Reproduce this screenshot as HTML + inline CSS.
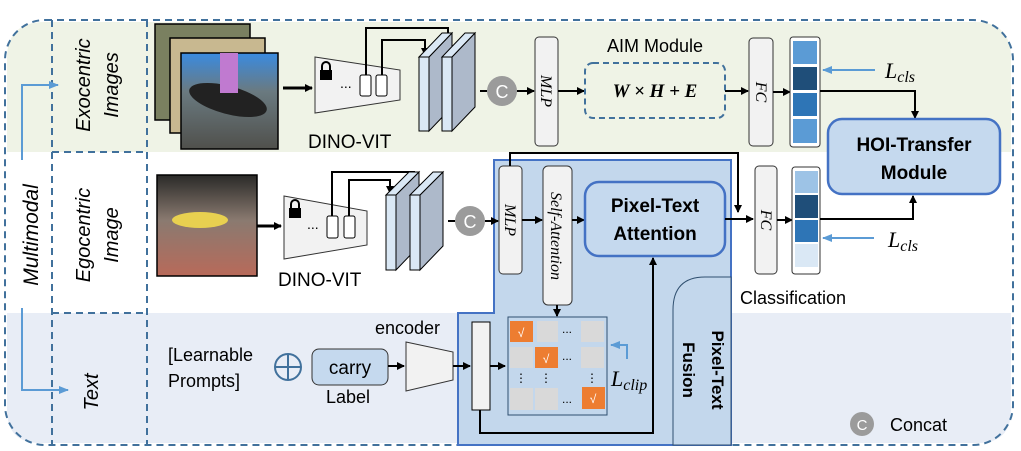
<!DOCTYPE html>
<html><head><meta charset="utf-8"><style>body{margin:0;background:#fff}svg{display:block}text{font-family:"Liberation Sans",sans-serif}text.s{font-family:"Liberation Serif",serif;font-style:italic}</style></head><body>
<svg width="1021" height="451" viewBox="0 0 1021 451" xmlns="http://www.w3.org/2000/svg">
<defs>
<marker id="a" markerWidth="8" markerHeight="8" refX="7" refY="4" orient="auto" markerUnits="userSpaceOnUse"><path d="M0,0 L8,4 L0,8z" fill="#000"/></marker>
<marker id="b" markerWidth="10" markerHeight="8" refX="9" refY="4" orient="auto" markerUnits="userSpaceOnUse"><path d="M0,0 L10,4 L0,8z" fill="#5b9bd5"/></marker>
<linearGradient id="g1" x1="0" y1="0" x2="0" y2="1"><stop offset="0" stop-color="#3a8be0"/><stop offset=".4" stop-color="#6a7a80"/><stop offset="1" stop-color="#50504c"/></linearGradient>
<linearGradient id="g2" x1="0" y1="0" x2="0" y2="1"><stop offset="0" stop-color="#2a2a28"/><stop offset=".45" stop-color="#8a7a70"/><stop offset="1" stop-color="#b86a5a"/></linearGradient>
</defs>
<path d="M45,22 H975 Q1011,22 1011,58 V152 H7 V58 Q7,22 45,22z" fill="#eff3e6"/>
<path d="M7,313 H1011 V410 Q1011,443 978,443 H40 Q7,443 7,410z" fill="#e8edf6"/>
<rect x="5" y="20" width="1008" height="425" rx="40" fill="none" stroke="#41719c" stroke-width="2" stroke-dasharray="7,5"/>
<g stroke="#41719c" stroke-width="2" stroke-dasharray="7,5" fill="none">
<line x1="52" y1="20" x2="52" y2="445"/><line x1="147" y1="20" x2="147" y2="445"/>
<line x1="52" y1="152" x2="147" y2="152"/><line x1="52" y1="313" x2="147" y2="313"/>
</g>
<text transform="translate(38,235) rotate(-90)" text-anchor="middle" font-size="21" font-style="italic">Multimodal</text>
<text transform="translate(90,85) rotate(-90)" text-anchor="middle" font-size="20" font-style="italic">Exocentric</text>
<text transform="translate(118,85) rotate(-90)" text-anchor="middle" font-size="20" font-style="italic">Images</text>
<text transform="translate(90,235) rotate(-90)" text-anchor="middle" font-size="20" font-style="italic">Egocentric</text>
<text transform="translate(118,235) rotate(-90)" text-anchor="middle" font-size="20" font-style="italic">Image</text>
<text transform="translate(98,392) rotate(-90)" text-anchor="middle" font-size="20" font-style="italic">Text</text>
<path d="M22,160 V85 H58" fill="none" stroke="#5b9bd5" stroke-width="2" marker-end="url(#b)"/>
<path d="M22,308 V390 H68" fill="none" stroke="#5b9bd5" stroke-width="2" marker-end="url(#b)"/>
<rect x="155" y="24" width="95" height="96" fill="#7a8060" stroke="#000" stroke-width="1.5"/>
<rect x="170" y="38" width="95" height="95" fill="#c8b890" stroke="#000" stroke-width="1.5"/>
<rect x="181" y="53" width="97" height="96" fill="url(#g1)" stroke="#000" stroke-width="1.5"/>
<ellipse cx="228" cy="100" rx="40" ry="14" fill="#222" transform="rotate(15 228 100)"/>
<rect x="220" y="53" width="18" height="40" fill="#c07ad0"/>
<line x1="283" y1="88" x2="312" y2="88" stroke="#000" stroke-width="3" marker-end="url(#a)"/>
<path d="M315,57 L400,70 L400,100 L315,113z" fill="#f2f2f2" stroke="#333"/>
<rect x="320" y="70" width="12" height="10" fill="#000"/><path d="M322,70 V66 A4,4 0 0 1 330,66 V70" fill="none" stroke="#000" stroke-width="2"/>
<text x="340" y="88" font-size="14">...</text>
<rect x="360" y="75" width="11" height="21" rx="2" fill="#fff" stroke="#000"/>
<rect x="376" y="75" width="11" height="21" rx="2" fill="#fff" stroke="#000"/>
<path d="M366,75 V28 H448 V48" fill="none" stroke="#000" stroke-width="2" marker-end="url(#a)"/>
<path d="M382,75 V40 H425 V55" fill="none" stroke="#000" stroke-width="2" marker-end="url(#a)"/>
<g stroke="#000" stroke-width="1">
<path d="M429,57 L452,33 V107 L429,131z" fill="#adb9ca"/><path d="M419,57 L442,33 H452 L429,57z" fill="#dae8f5"/><rect x="419" y="57" width="10" height="74" fill="#dae8f5"/>
<path d="M452,57 L475,33 V107 L452,131z" fill="#adb9ca"/><path d="M442,57 L465,33 H475 L452,57z" fill="#dae8f5"/><rect x="442" y="57" width="10" height="74" fill="#dae8f5"/>
</g>
<text x="308" y="148" font-size="19">DINO-VIT</text>
<line x1="480" y1="91" x2="487" y2="91" stroke="#000" stroke-width="2"/>
<circle cx="502" cy="91" r="15" fill="#9b9b9b"/><text x="502" y="98" text-anchor="middle" font-size="18" fill="#fff">C</text>
<line x1="517" y1="91" x2="534" y2="91" stroke="#000" stroke-width="2" marker-end="url(#a)"/>
<rect x="535" y="37" width="23" height="109" rx="4" fill="#f2f2f2" stroke="#333"/>
<text class="s" transform="translate(541,91) rotate(90)" text-anchor="middle" font-size="16">MLP</text>
<line x1="558" y1="91" x2="584" y2="91" stroke="#000" stroke-width="2" marker-end="url(#a)"/>
<text x="655" y="52" text-anchor="middle" font-size="18">AIM Module</text>
<rect x="585" y="63" width="140" height="55" rx="8" fill="#eff3e6" stroke="#41719c" stroke-width="2" stroke-dasharray="6,4"/>
<text class="s" x="655" y="97" text-anchor="middle" font-size="19" font-weight="bold">W × H + E</text>
<line x1="725" y1="91" x2="748" y2="91" stroke="#000" stroke-width="2" marker-end="url(#a)"/>
<rect x="749" y="38" width="24" height="108" rx="4" fill="#f2f2f2" stroke="#333"/>
<text class="s" transform="translate(756,92) rotate(90)" text-anchor="middle" font-size="16">FC</text>
<line x1="773" y1="92" x2="790" y2="92" stroke="#000" stroke-width="2" marker-end="url(#a)"/>
<rect x="790" y="37" width="30" height="110" rx="3" fill="#fff" stroke="#333"/>
<rect x="793" y="41" width="24" height="23" fill="#5b9bd5"/><rect x="793" y="67" width="24" height="23" fill="#1f4e79"/><rect x="793" y="93" width="24" height="23" fill="#2e75b6"/><rect x="793" y="119" width="24" height="24" fill="#5b9bd5"/>
<line x1="875" y1="70" x2="823" y2="70" stroke="#5b9bd5" stroke-width="2" marker-end="url(#b)"/>
<text class="s" x="885" y="78" font-size="22">L<tspan font-size="16" dy="4">cls</tspan></text>
<path d="M820,91 H915 V118" fill="none" stroke="#000" stroke-width="2" marker-end="url(#a)"/>
<rect x="828" y="119" width="172" height="75" rx="14" fill="#c5d9ee" stroke="#4472c4" stroke-width="2.5"/>
<text x="914" y="151" text-anchor="middle" font-size="19" font-weight="bold">HOI-Transfer</text>
<text x="914" y="179" text-anchor="middle" font-size="19" font-weight="bold">Module</text>
<rect x="157" y="175" width="100" height="101" fill="url(#g2)" stroke="#000" stroke-width="1.5"/>
<ellipse cx="200" cy="220" rx="28" ry="8" fill="#e8d050"/>
<line x1="257" y1="226" x2="281" y2="226" stroke="#000" stroke-width="3" marker-end="url(#a)"/>
<path d="M284,196 L367,211 L367,245 L284,259z" fill="#f2f2f2" stroke="#333"/>
<rect x="289" y="208" width="12" height="10" fill="#000"/><path d="M291,208 V204 A4,4 0 0 1 299,204 V208" fill="none" stroke="#000" stroke-width="2"/>
<text x="307" y="229" font-size="14">...</text>
<rect x="327" y="216" width="11" height="22" rx="2" fill="#fff" stroke="#000"/>
<rect x="344" y="216" width="11" height="22" rx="2" fill="#fff" stroke="#000"/>
<path d="M332,216 V172 H414 V192" fill="none" stroke="#000" stroke-width="2" marker-end="url(#a)"/>
<path d="M349,216 V180 H390 V193" fill="none" stroke="#000" stroke-width="2" marker-end="url(#a)"/>
<g stroke="#000" stroke-width="1">
<path d="M396,195 L419,172 V246 L396,270z" fill="#adb9ca"/><path d="M386,195 L409,172 H419 L396,195z" fill="#dae8f5"/><rect x="386" y="195" width="10" height="75" fill="#dae8f5"/>
<path d="M420,195 L443,172 V246 L420,270z" fill="#adb9ca"/><path d="M410,195 L433,172 H443 L420,195z" fill="#dae8f5"/><rect x="410" y="195" width="10" height="75" fill="#dae8f5"/>
</g>
<text x="278" y="286" font-size="19">DINO-VIT</text>
<line x1="448" y1="221" x2="455" y2="221" stroke="#000" stroke-width="2"/>
<circle cx="470" cy="221" r="15" fill="#9b9b9b"/><text x="470" y="228" text-anchor="middle" font-size="18" fill="#fff">C</text>
<path d="M494,160 H731 V445 H458 V313 H494z" fill="#c3d7ec" stroke="#4472c4" stroke-width="2"/>
<line x1="485" y1="221" x2="498" y2="221" stroke="#000" stroke-width="2" marker-end="url(#a)"/>
<rect x="499" y="166" width="23" height="108" rx="4" fill="#f2f2f2" stroke="#333"/>
<text class="s" transform="translate(505,220) rotate(90)" text-anchor="middle" font-size="16">MLP</text>
<path d="M510,166 V153 H738 V212" fill="none" stroke="#000" stroke-width="2" marker-end="url(#a)"/>
<line x1="522" y1="220" x2="542" y2="220" stroke="#000" stroke-width="2" marker-end="url(#a)"/>
<rect x="543" y="166" width="29" height="139" rx="5" fill="#f2f2f2" stroke="#333"/>
<text class="s" transform="translate(551,236) rotate(90)" text-anchor="middle" font-size="16">Self-Attention</text>
<line x1="572" y1="220" x2="584" y2="220" stroke="#000" stroke-width="2" marker-end="url(#a)"/>
<rect x="585" y="182" width="140" height="74" rx="14" fill="#c5d9ee" stroke="#4472c4" stroke-width="2.5"/>
<text x="655" y="212" text-anchor="middle" font-size="19" font-weight="bold">Pixel-Text</text>
<text x="655" y="240" text-anchor="middle" font-size="19" font-weight="bold">Attention</text>
<line x1="725" y1="219" x2="753" y2="219" stroke="#000" stroke-width="2" marker-end="url(#a)"/>
<line x1="557" y1="305" x2="557" y2="316" stroke="#000" stroke-width="2" marker-end="url(#a)"/>
<rect x="508" y="317" width="99" height="98" fill="#c3d7ec" stroke="#2f4f6f"/>
<g fill="#d9d9d9"><rect x="537" y="321" width="21" height="21"/><rect x="581" y="321" width="23" height="21"/><rect x="510" y="347" width="23" height="21"/><rect x="581" y="347" width="23" height="21"/><rect x="510" y="388" width="23" height="22"/><rect x="535" y="388" width="23" height="22"/></g>
<g fill="#ed7d31"><rect x="510" y="321" width="23" height="21"/><rect x="535" y="347" width="23" height="21"/><rect x="582" y="387" width="23" height="22"/></g>
<g font-size="12" fill="#fff" text-anchor="middle"><text x="521" y="337">√</text><text x="546" y="363">√</text><text x="593" y="403">√</text></g>
<g font-size="12" text-anchor="middle"><text x="567" y="333">...</text><text x="567" y="360">...</text><text x="567" y="403">...</text><text x="521" y="382">⋮</text><text x="546" y="382">⋮</text><text x="592" y="382">⋮</text></g>
<path d="M627,359 V345 H611" fill="none" stroke="#5b9bd5" stroke-width="2" marker-end="url(#b)"/>
<text class="s" x="611" y="386" font-size="22">L<tspan font-size="16" dy="4">clip</tspan></text>
<rect x="472" y="322" width="18" height="88" fill="#f2f2f2" stroke="#000"/>
<line x1="490" y1="366" x2="505" y2="366" stroke="#000" stroke-width="2" marker-end="url(#a)"/>
<path d="M480,410 V433 H653 V258" fill="none" stroke="#000" stroke-width="2" marker-end="url(#a)"/>
<path d="M673,445 V310 Q673,277 705,277 H731 V445z" fill="#c3d7ec" stroke="#2f4f6f"/>
<text transform="translate(712,370) rotate(90)" text-anchor="middle" font-size="17" font-weight="bold">Pixel-Text</text>
<text transform="translate(683,370) rotate(90)" text-anchor="middle" font-size="17" font-weight="bold">Fusion</text>
<rect x="755" y="166" width="22" height="108" rx="4" fill="#f2f2f2" stroke="#333"/>
<text class="s" transform="translate(761,220) rotate(90)" text-anchor="middle" font-size="16">FC</text>
<line x1="777" y1="220" x2="792" y2="220" stroke="#000" stroke-width="2" marker-end="url(#a)"/>
<rect x="792" y="167" width="28" height="107" rx="3" fill="#fff" stroke="#333"/>
<rect x="795" y="171" width="23" height="22" fill="#9dc3e6"/><rect x="795" y="195" width="23" height="23" fill="#1f4e79"/><rect x="795" y="220" width="23" height="22" fill="#2e75b6"/><rect x="795" y="244" width="23" height="23" fill="#dae8f5"/>
<path d="M820,219 H913 V196" fill="none" stroke="#000" stroke-width="2" marker-end="url(#a)"/>
<line x1="874" y1="238" x2="823" y2="238" stroke="#5b9bd5" stroke-width="2" marker-end="url(#b)"/>
<text class="s" x="888" y="247" font-size="22">L<tspan font-size="16" dy="4">cls</tspan></text>
<text x="740" y="304" font-size="18">Classification</text>
<text x="168" y="361" font-size="18">[Learnable</text>
<text x="168" y="387" font-size="18">Prompts]</text>
<circle cx="288" cy="367" r="13" fill="none" stroke="#41719c" stroke-width="2"/>
<path d="M275,367 H301 M288,354 V380" stroke="#41719c" stroke-width="2"/>
<rect x="312" y="349" width="76" height="36" rx="7" fill="#c5d9ee" stroke="#333"/>
<text x="350" y="374" text-anchor="middle" font-size="19">carry</text>
<text x="348" y="403" text-anchor="middle" font-size="18">Label</text>
<line x1="388" y1="366" x2="404" y2="366" stroke="#000" stroke-width="2" marker-end="url(#a)"/>
<path d="M406,342 L453,352 L453,380 L406,391z" fill="#f2f2f2" stroke="#333"/>
<text x="375" y="334" font-size="18">encoder</text>
<line x1="453" y1="366" x2="470" y2="366" stroke="#000" stroke-width="2" marker-end="url(#a)"/>
<circle cx="862" cy="424" r="12" fill="#9b9b9b"/><text x="862" y="430" text-anchor="middle" font-size="15" fill="#fff">C</text>
<text x="890" y="431" font-size="18">Concat</text>
</svg>
</body></html>
